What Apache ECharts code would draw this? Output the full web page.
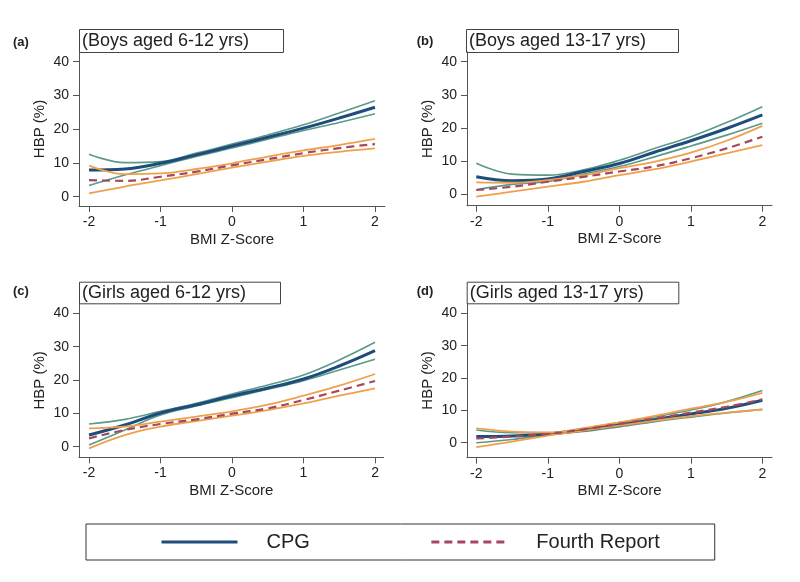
<!DOCTYPE html>
<html>
<head>
<meta charset="utf-8">
<script src="https://cdn.jsdelivr.net/npm/echarts@6/dist/echarts.min.js"></script>
<style>
html,body{margin:0;padding:0;background:#fff;}
#chart{width:800px;height:582px;}
</style>
</head>
<body>
<div id="chart"></div>
<script>
// BMI z-score sample points (x axis)
const zScores = [-2, -1.5, -1, -0.5, 0, 0.5, 1, 1.5, 2];
const xTickValues = [-2, -1, 0, 1, 2];
const yTickValues = [0, 10, 20, 30, 40];

const panelTitles = ['(Boys aged 6-12 yrs)', '(Boys aged 13-17 yrs)', '(Girls aged 6-12 yrs)', '(Girls aged 13-17 yrs)'];
const panelLetters = ['(a)', '(b)', '(c)', '(d)'];
const legendNames = ['CPG', 'Fourth Report'];

// (a) Boys 6-12
const boysYoungCpgMean  = [7.9, 8.2, 9.9, 12.4, 15.0, 17.6, 20.3, 23.3, 26.5];
const boysYoungCpgUpper = [12.6, 10.1, 10.4, 12.9, 15.6, 18.3, 21.3, 24.8, 28.4];
const boysYoungCpgLower = [3.3, 6.4, 9.2, 11.9, 14.4, 17.0, 19.6, 22.0, 24.6];
const boysYoungFrMean   = [4.9, 4.7, 5.9, 7.4, 9.3, 11.1, 12.9, 14.4, 15.6];
const boysYoungFrUpper  = [9.2, 6.7, 6.9, 8.2, 9.9, 11.9, 13.7, 15.3, 17.1];
const boysYoungFrLower  = [1.0, 3.0, 4.8, 6.7, 8.6, 10.4, 12.1, 13.3, 14.3];

// (b) Boys 13-17
const boysOldCpgMean  = [5.2, 4.0, 4.5, 6.8, 9.2, 12.7, 16.1, 19.8, 23.9];
const boysOldCpgUpper = [9.3, 6.0, 5.7, 7.3, 10.2, 13.8, 17.3, 21.6, 26.4];
const boysOldCpgLower = [1.3, 2.9, 3.8, 6.0, 8.3, 11.3, 14.5, 17.8, 21.4];
const boysOldFrMean   = [1.2, 2.2, 3.7, 5.2, 6.8, 8.4, 10.8, 13.8, 17.3];
const boysOldFrUpper  = [3.5, 3.4, 4.2, 5.7, 7.8, 9.8, 12.5, 16.1, 20.6];
const boysOldFrLower  = [-0.8, 0.7, 2.2, 3.7, 5.7, 7.5, 9.8, 12.3, 14.8];

// (c) Girls 6-12
const girlsYoungCpgMean  = [3.5, 6.5, 10.1, 12.6, 15.2, 17.6, 20.3, 24.2, 28.8];
const girlsYoungCpgUpper = [6.8, 8.2, 10.6, 13.0, 15.8, 18.5, 21.5, 26.0, 31.3];
const girlsYoungCpgLower = [0.5, 5.0, 9.5, 12.2, 14.7, 17.2, 19.8, 23.0, 26.2];
const girlsYoungFrMean   = [2.5, 5.0, 6.8, 8.2, 9.9, 11.5, 14.0, 16.8, 19.7];
const girlsYoungFrUpper  = [5.5, 6.0, 7.5, 9.0, 10.6, 12.6, 15.3, 18.3, 21.8];
const girlsYoungFrLower  = [-0.5, 3.5, 6.0, 7.7, 9.3, 11.0, 13.0, 15.3, 17.5];

// (d) Girls 13-17
const girlsOldCpgMean  = [1.9, 2.1, 2.7, 3.9, 5.5, 7.2, 8.9, 10.6, 13.1];
const girlsOldCpgUpper = [3.9, 3.1, 3.1, 4.4, 6.2, 8.0, 10.1, 12.7, 16.1];
const girlsOldCpgLower = [0.0, 1.0, 2.4, 3.5, 4.9, 6.5, 7.9, 9.2, 10.3];
const girlsOldFrMean   = [1.3, 1.9, 2.7, 4.1, 5.8, 7.5, 9.3, 11.1, 13.4];
const girlsOldFrUpper  = [4.4, 3.4, 3.1, 4.5, 6.3, 8.3, 10.5, 12.6, 15.4];
const girlsOldFrLower  = [-1.4, 0.3, 2.2, 3.7, 5.3, 6.8, 8.2, 9.3, 10.2];

const panelData = [
  [boysYoungCpgMean, boysYoungCpgUpper, boysYoungCpgLower, boysYoungFrMean, boysYoungFrUpper, boysYoungFrLower],
  [boysOldCpgMean, boysOldCpgUpper, boysOldCpgLower, boysOldFrMean, boysOldFrUpper, boysOldFrLower],
  [girlsYoungCpgMean, girlsYoungCpgUpper, girlsYoungCpgLower, girlsYoungFrMean, girlsYoungFrUpper, girlsYoungFrLower],
  [girlsOldCpgMean, girlsOldCpgUpper, girlsOldCpgLower, girlsOldFrMean, girlsOldFrUpper, girlsOldFrLower]
];

// layout (pixels)
const FONT = '"Liberation Sans", Arial, sans-serif';
const grids = [
  {left: 79,  top: 52,    width: 306, height: 154},
  {left: 467, top: 52,    width: 305, height: 153.7},
  {left: 79,  top: 303.3, width: 304.6, height: 154},
  {left: 467, top: 303.3, width: 305, height: 154.4}
];
const xRanges = [[-2.14, 2.14], [-2.13, 2.135], [-2.14, 2.12], [-2.13, 2.135]];
const yRanges = [[-2.76, 42.87], [-3.54, 42.93], [-3.18, 43.0], [-4.64, 43.09]];
const titleBoxes = [
  {x: 79,  y: 29,    w: 204, h: 23},
  {x: 466, y: 29,    w: 212, h: 23},
  {x: 79,  y: 281.7, w: 201, h: 21.6},
  {x: 466.7, y: 281.7, w: 211.6, h: 21.6}
];
const letterPos = [[13, 42.7], [416.7, 41.7], [13, 291.7], [416.7, 291]];

const COL_CPG = '#1e4d7b';
const COL_CPG_CI = '#5b9a8b';
const COL_FR = '#a3485e';
const COL_FR_CI = '#f0a04b';
const AXIS_COL = '#555';

const pairs = vals => zScores.map((z, i) => [z, vals[i]]);

const xAxes = [], yAxes = [], series = [], graphics = [];
for (let p = 0; p < 4; p++) {
  xAxes.push({
    type: 'value', gridIndex: p, min: xRanges[p][0], max: xRanges[p][1],
    name: 'BMI Z-Score', nameLocation: 'middle', nameGap: 26,
    nameTextStyle: {fontSize: 15, color: '#222', fontFamily: FONT},
    axisLine: {show: true, onZero: false, lineStyle: {color: AXIS_COL, width: 1}},
    axisTick: {show: true, length: 6, customValues: xTickValues, lineStyle: {color: AXIS_COL}},
    axisLabel: {customValues: xTickValues, fontSize: 14, color: '#222', fontFamily: FONT, margin: 9},
    splitLine: {show: false}
  });
  yAxes.push({
    type: 'value', gridIndex: p, min: yRanges[p][0], max: yRanges[p][1],
    name: 'HBP (%)', nameLocation: 'middle', nameGap: 32,
    nameTextStyle: {fontSize: 15, color: '#222', fontFamily: FONT},
    axisLine: {show: true, onZero: false, lineStyle: {color: AXIS_COL, width: 1}},
    axisTick: {show: true, length: 6, customValues: yTickValues, lineStyle: {color: AXIS_COL}},
    axisLabel: {customValues: yTickValues, fontSize: 14, color: '#222', fontFamily: FONT, margin: 10},
    splitLine: {show: false}
  });
  const d = panelData[p];
  const base = {type: 'line', xAxisIndex: p, yAxisIndex: p, smooth: 0.4, symbol: 'none', silent: true, animation: false};
  series.push(Object.assign({}, base, {name: 'CPG upper 95% CI', data: pairs(d[1]), lineStyle: {color: COL_CPG_CI, width: 1.6}, itemStyle: {color: COL_CPG_CI}}));
  series.push(Object.assign({}, base, {name: 'CPG lower 95% CI', data: pairs(d[2]), lineStyle: {color: COL_CPG_CI, width: 1.6}, itemStyle: {color: COL_CPG_CI}}));
  series.push(Object.assign({}, base, {name: 'CPG', data: pairs(d[0]), lineStyle: {color: COL_CPG, width: 3}, itemStyle: {color: COL_CPG}}));
  series.push(Object.assign({}, base, {name: 'Fourth Report upper 95% CI', data: pairs(d[4]), lineStyle: {color: COL_FR_CI, width: 1.8}, itemStyle: {color: COL_FR_CI}}));
  series.push(Object.assign({}, base, {name: 'Fourth Report lower 95% CI', data: pairs(d[5]), lineStyle: {color: COL_FR_CI, width: 1.8}, itemStyle: {color: COL_FR_CI}}));
  series.push(Object.assign({}, base, {name: 'Fourth Report', data: pairs(d[3]), lineStyle: {color: COL_FR, width: 2.2, type: [8, 5]}, itemStyle: {color: COL_FR}}));

  const b = titleBoxes[p];
  graphics.push({type: 'rect', left: b.x, top: b.y, shape: {width: b.w, height: b.h}, style: {fill: '#fff', stroke: '#444', lineWidth: 1}, silent: true});
  graphics.push({type: 'text', x: b.x + 3, y: b.y + b.h / 2 + 0.5, style: {text: panelTitles[p], font: '18px ' + FONT, fill: '#222', verticalAlign: 'middle'}, silent: true});
  graphics.push({type: 'text', x: letterPos[p][0], y: letterPos[p][1], style: {text: panelLetters[p], font: 'bold 13px ' + FONT, fill: '#222', verticalAlign: 'middle'}, silent: true});
}

const chart = echarts.init(document.getElementById('chart'), null, {renderer: 'canvas'});
chart.setOption({
  animation: false,
  backgroundColor: '#fff',
  grid: grids.map(g => Object.assign({containLabel: false}, g)),
  xAxis: xAxes,
  yAxis: yAxes,
  series: series,
  graphic: graphics,
  legend: {
    data: legendNames,
    left: 86, top: 524,
    orient: 'horizontal',
    itemWidth: 76, itemHeight: 14,
    itemGap: 120,
    padding: [8, 55, 8, 74],
    borderColor: '#333', borderWidth: 1,
    selectedMode: false,
    itemStyle: {opacity: 0},
    lineStyle: {width: 3},
    textStyle: {fontSize: 20, color: '#222', fontFamily: FONT, padding: [0, 0, 0, 24]}
  }
});
</script>
</body>
</html>
